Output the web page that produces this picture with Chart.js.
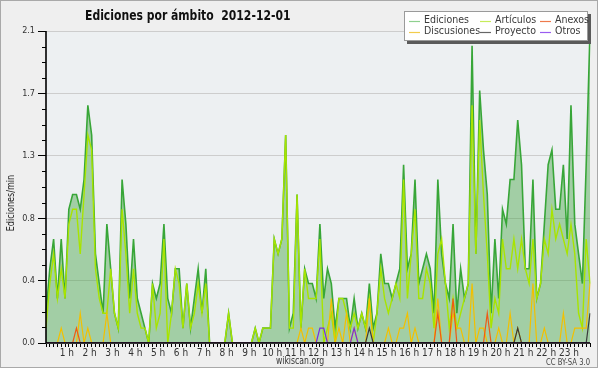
<!DOCTYPE html>
<html><head><meta charset="utf-8">
<script src="https://cdn.jsdelivr.net/npm/chart.js@4.4.1/dist/chart.umd.min.js"></script>
<style>html,body{margin:0;padding:0;background:#fff}canvas{display:block}</style>
</head><body>
<canvas id="c" width="600" height="370"></canvas>
<script>
const FONT = "'Liberation Sans Narrow','DejaVu Sans Condensed',sans-serif";

// 10-minute slots of the day (categories)
const slots = [];
for (let h = 0; h < 24; h++) for (let m = 0; m < 60; m += 10) slots.push(String(h).padStart(2,'0') + ':' + String(m).padStart(2,'0'));

const hourLabels = ['', '1 h','2 h','3 h','4 h','5 h','6 h','7 h','8 h','9 h','10 h','11 h','12 h','13 h','14 h','15 h','16 h','17 h','18 h','19 h','20 h','21 h','22 h','23 h'];
const yTickValues = [0, 0.42, 0.84, 1.26, 1.68, 2.1];
const yTickLabels = ['0.0','0.4','0.8','1.3','1.7','2.1'];

const ediciones = [
 0.2,0.5,0.7,0.3,0.7,0.3,
 0.9,1.0,1.0,0.9,1.1,1.6,
 1.4,0.6,0.4,0.2,0.8,0.5,
 0.2,0.1,1.1,0.8,0.3,0.7,
 0.3,0.2,0.1,0.0,0.4,0.3,
 0.4,0.8,0.3,0.2,0.5,0.5,
 0.1,0.4,0.1,0.3,0.5,0.2,
 0.5,0,0,0,0,0,
 0.2,0,0,0,0,0,
 0,0.1,0,0.1,0.1,0.1,
 0.7,0.6,0.7,1.4,0.1,0.2,
 1.0,0.1,0.5,0.4,0.4,0.3,
 0.8,0.3,0.5,0.4,0.1,0.3,
 0.3,0.3,0.1,0.3,0.1,0.2,
 0.1,0.4,0.1,0.2,0.6,0.4,
 0.4,0.3,0.4,0.5,1.2,0.5,
 0.6,1.1,0.4,0.5,0.6,0.5,
 0.2,1.1,0.6,0.4,0.3,0.8,
 0.2,0.5,0.3,0.4,2.0,0.6,
 1.7,1.3,1.0,0.2,0.7,0.3,
 0.9,0.8,1.1,1.1,1.5,1.2,
 0.5,0.5,1.1,0.3,0.4,0.8,
 1.2,1.3,0.9,0.9,1.2,0.7,
 1.6,0.8,0.6,0.4,1.2,2.1
];
const articulos = [
 0.1,0.4,0.6,0.3,0.5,0.3,
 0.8,0.9,0.9,0.6,1.0,1.4,
 1.3,0.5,0.3,0.2,0.2,0.5,
 0.2,0.1,0.9,0.6,0.2,0.5,
 0.2,0.1,0.1,0,0.4,0.1,
 0.2,0.7,0,0.2,0.5,0.4,
 0.1,0.4,0.1,0.2,0.4,0.2,
 0.4,0,0,0,0,0,
 0.2,0,0,0,0,0,
 0,0.1,0,0.1,0.1,0.1,
 0.7,0.6,0.7,1.4,0.1,0.1,
 1.0,0.1,0.5,0.3,0.3,0.3,
 0.7,0,0.1,0.2,0,0.3,
 0.3,0.2,0.1,0.2,0.1,0.2,
 0.1,0.3,0,0.2,0.5,0.3,
 0.2,0.3,0.4,0.3,1.1,0.3,
 0.6,0.9,0.3,0.3,0.5,0.4,
 0.1,0.6,0.7,0.4,0.1,0.3,
 0.1,0.2,0.3,0.4,1.6,0.6,
 1.5,1.0,0.6,0.1,0.3,0.2,
 0.7,0.5,0.5,0.7,0.5,0.7,
 0.5,0.4,0.7,0.3,0.4,0.7,
 0.6,0.9,0.7,0.8,0.7,0.6,
 0.8,0.6,0.2,0.1,0.7,0.4
];
const anexos = [
 0,0,0,0,0,0,  0,0,0.1,0,0,0,  0,0,0,0,0,0,  0,0,0,0,0,0,
 0,0,0,0,0,0,  0,0,0,0,0,0,  0,0,0,0,0,0,  0,0,0,0,0,0,
 0,0,0,0,0,0,  0,0,0,0,0,0,  0,0,0,0,0,0,  0,0,0,0,0,0,
 0,0,0,0,0,0,  0,0,0,0,0,0,  0,0,0,0,0,0,  0,0,0,0,0,0,
 0,0,0,0,0,0,  0,0.2,0,0,0,0.3,  0,0,0,0,0,0,  0,0,0.2,0,0,0,
 0,0,0,0,0,0,  0,0,0,0,0,0,  0,0,0,0,0,0,  0,0,0,0,0,0
];
const discusiones = [
 0,0,0,0,0.1,0,  0,0,0,0.2,0,0.1,  0,0,0,0,0.2,0,  0,0,0,0,0,0,
 0,0,0,0,0,0,  0,0,0,0,0,0,  0,0,0,0,0,0,  0,0,0,0,0,0,
 0,0,0,0,0,0,  0,0,0,0,0,0,  0,0,0,0,0,0,  0,0.1,0,0.1,0.1,0,
 0,0,0,0.3,0,0.1,  0,0.2,0,0.1,0,0,  0,0.3,0,0,0,0,  0.1,0,0,0.1,0.1,0.2,
 0,0.1,0,0,0,0,  0,0.3,0,0,0,0.2,  0.1,0.1,0,0,0.4,0,  0.1,0.1,0,0,0,0.1,
 0,0,0.2,0,0.1,0,  0,0,0.4,0,0,0.1,  0,0,0,0,0.2,0,  0,0.1,0.1,0.1,0.1,0.4
];
const proyecto = [
 0,0,0,0,0,0,  0,0,0,0,0,0,  0,0,0,0,0,0,  0,0,0,0,0,0,
 0,0,0,0,0,0,  0,0,0,0,0,0,  0,0,0,0,0,0,  0,0,0,0,0,0,
 0,0,0,0,0,0,  0,0,0,0,0,0,  0,0,0,0,0,0,  0,0,0,0,0,0,
 0,0,0,0,0,0,  0,0,0,0,0,0,  0,0.1,0,0,0,0,  0,0,0,0,0,0,
 0,0,0,0,0,0,  0,0,0,0,0,0,  0,0,0,0,0,0,  0,0,0,0,0,0,
 0,0,0,0,0.1,0,  0,0,0,0,0,0,  0,0,0,0,0,0,  0,0,0,0,0,0.2
];
const otros = [
 0,0,0,0,0,0,  0,0,0,0,0,0,  0,0,0,0,0,0,  0,0,0,0,0,0,
 0,0,0,0,0,0,  0,0,0,0,0,0,  0,0,0,0,0,0,  0,0,0,0,0,0,
 0,0,0,0,0,0,  0,0,0,0,0,0,  0,0,0,0,0,0,  0,0,0,0,0,0,
 0.1,0.1,0,0,0,0,  0,0,0,0.1,0,0,  0,0,0,0,0,0,  0,0,0,0,0,0,
 0,0,0,0,0,0,  0,0,0,0,0,0,  0,0,0,0,0,0,  0,0,0,0,0,0,
 0,0,0,0,0,0,  0,0,0,0,0,0,  0,0,0,0,0,0,  0,0,0,0,0,0
];

const seriesNames = ['Ediciones','Artículos','Anexos','Discusiones','Proyecto','Otros'];
const lineColors  = ['#38a638','#a8e400','#ee5a14','#f2c000','#3a3a3a','#7a2ce0'];
const legendColors= ['#8fd08f','#c6ec5a','#ee7a4c','#f2cc4c','#666666','#9a5cf0'];

function mk(i, data, width, order, extra) {
  return Object.assign({label: seriesNames[i], data, borderColor: lineColors[i], borderWidth: width,
    pointRadius: 0, tension: 0, fill: false, order, legendColor: legendColors[i]}, extra || {});
}

function narrowText(ctx, text, x, y, sx, align) {
  ctx.save();
  ctx.translate(x, y); ctx.scale(sx, 1);
  ctx.textAlign = align; ctx.fillText(text, 0, 0);
  ctx.restore();
}

const decor = {
  id: 'decor',
  beforeDraw(chart) {
    const ctx = chart.ctx, a = chart.chartArea;
    ctx.save();
    ctx.fillStyle = '#ffffff'; ctx.fillRect(0, 0, chart.width, chart.height);
    ctx.fillStyle = '#efefef'; ctx.fillRect(0, 0, 598, 368);
    ctx.strokeStyle = '#a9a9a9'; ctx.lineWidth = 1; ctx.strokeRect(0.5, 0.5, 597, 367);
    ctx.fillStyle = '#edf0f2'; ctx.fillRect(a.left, a.top, a.right - a.left, a.bottom - a.top);
    ctx.restore();
  },
  afterDatasetsDraw(chart) {
    const ctx = chart.ctx, a = chart.chartArea, ys = chart.scales.y;
    ctx.save();
    ctx.strokeStyle = '#000'; ctx.lineWidth = 1;
    ctx.beginPath();
    for (let k = 1; k < 20; k++) {
      if (k % 4 === 0) continue;
      const y = Math.round(ys.getPixelForValue(k * ys.max / 20)) + 0.5;
      ctx.moveTo(a.left - 4, y); ctx.lineTo(a.left, y);
    }
    ctx.stroke();
    ctx.lineWidth = 1.6;
    ctx.beginPath();
    ctx.moveTo(a.left, a.top); ctx.lineTo(a.left, a.bottom); ctx.lineTo(a.right, a.bottom);
    ctx.stroke();
    ctx.restore();
  },
  afterDraw(chart) {
    const ctx = chart.ctx;
    ctx.save();
    ctx.textBaseline = 'middle';
    // title
    ctx.fillStyle = '#111';
    ctx.font = "bold 14px " + FONT;
    narrowText(ctx, 'Ediciones por ámbito  2012-12-01', 85, 16.5, 0.86, 'left');
    // y title
    ctx.save();
    ctx.translate(11, 203); ctx.rotate(-Math.PI / 2);
    ctx.font = "10px " + FONT; ctx.fillStyle = '#222';
    narrowText(ctx, 'Ediciones/min', 0, 0, 0.9, 'center');
    ctx.restore();
    // footer
    ctx.font = "10.5px " + FONT; ctx.fillStyle = '#333';
    narrowText(ctx, 'wikiscan.org', 300, 361, 0.82, 'center');
    ctx.font = "8px " + FONT; ctx.fillStyle = '#444';
    narrowText(ctx, 'CC BY-SA 3.0', 590, 362.5, 0.95, 'right');
    // legend
    ctx.fillStyle = '#5a5a5a'; ctx.fillRect(407, 14, 184, 30);
    ctx.fillStyle = '#ffffff'; ctx.fillRect(404, 11, 184, 30);
    ctx.strokeStyle = '#9a9a9a'; ctx.lineWidth = 1; ctx.strokeRect(404.5, 11.5, 183, 29);
    const colX = [409, 480, 540], rowY = [20.5, 31.5];
    ctx.font = "10.5px " + FONT; ctx.textAlign = 'left';
    chart.data.datasets.forEach((ds, i) => {
      const cx = colX[i % 3], cy = rowY[Math.floor(i / 3)];
      ctx.strokeStyle = ds.legendColor; ctx.lineWidth = 1.2;
      ctx.beginPath(); ctx.moveTo(cx, Math.round(cy) + 0.5); ctx.lineTo(cx + 11, Math.round(cy) + 0.5); ctx.stroke();
      ctx.fillStyle = '#3a3a3a'; ctx.fillText(ds.label, cx + 15, cy);
    });
    ctx.restore();
  }
};

new Chart(document.getElementById('c'), {
  type: 'line',
  data: {
    labels: slots,
    datasets: [
      mk(0, ediciones, 1.6, 6, {fill: 'origin', backgroundColor: 'rgba(70,165,70,0.45)'}),
      mk(1, articulos, 1.4, 5),
      mk(2, anexos, 1.2, 3),
      mk(3, discusiones, 1.2, 4),
      mk(4, proyecto, 1.2, 2),
      mk(5, otros, 1.2, 1)
    ]
  },
  options: {
    responsive: false, animation: false, devicePixelRatio: 1,
    layout: {padding: {left: 0, right: 10, top: 31, bottom: 0}},
    plugins: {legend: {display: false}, tooltip: {enabled: false}, title: {display: false}},
    scales: {
      x: {
        type: 'category', offset: false, border: {display: false},
        grid: {drawOnChartArea: false, drawTicks: true, tickLength: 4, tickColor: '#000', tickWidth: 1},
        ticks: {autoSkip: false, maxRotation: 0, minRotation: 0, padding: 0, labelOffset: -2, color: '#333',
          font: {family: FONT, size: 10},
          callback: (v, i) => (i % 6 === 0 ? hourLabels[i / 6] : '')},
        afterFit: s => { s.height = 27; }
      },
      y: {
        type: 'linear', min: 0, max: 2.1, border: {display: false},
        afterBuildTicks: s => { s.ticks = yTickValues.map(v => ({value: v})); },
        grid: {color: '#cdcdcd', lineWidth: 1, tickLength: 8, tickColor: '#000', drawTicks: true},
        ticks: {padding: 3, color: '#333', font: {family: FONT, size: 9}, callback: (v, i) => yTickLabels[i]},
        afterFit: s => { s.width = 46; }
      }
    }
  },
  plugins: [decor]
});
</script>
</body></html>
